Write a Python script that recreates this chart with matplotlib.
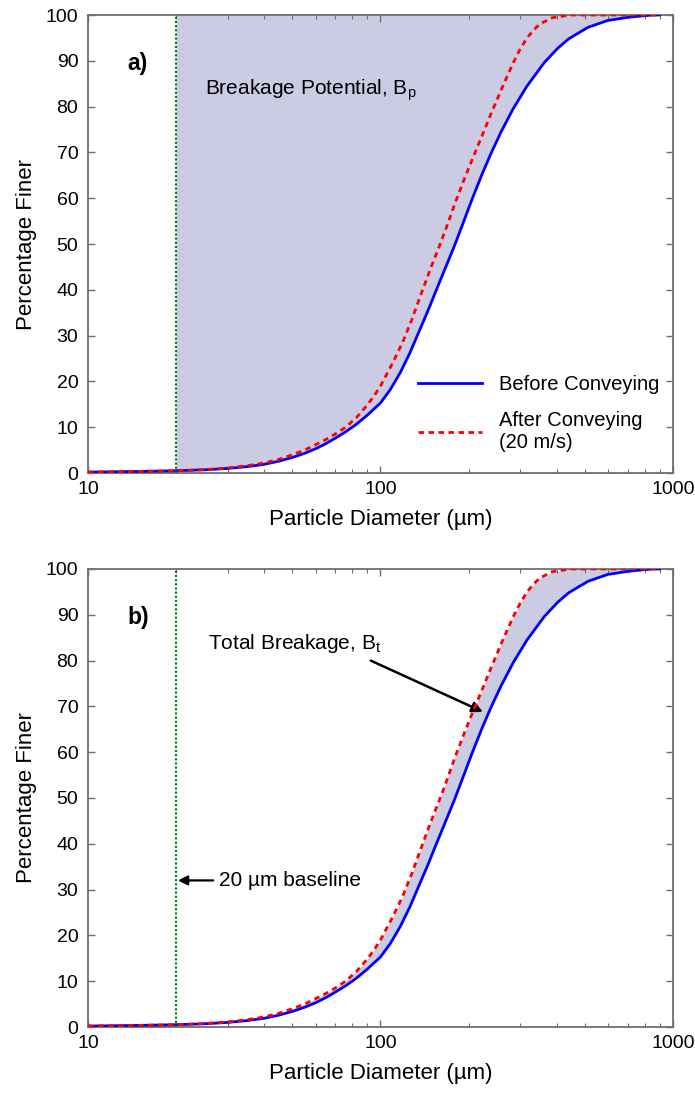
"""
Cumulative particle size distributions before and after pneumatic conveying,
showing breakage potential (a) and total breakage (b) relative to a 20 um baseline.
"""
import numpy as np
import matplotlib.pyplot as plt
from matplotlib.ticker import FixedLocator, LogLocator, NullFormatter

plt.rcParams["font.family"] = ["Liberation Sans", "DejaVu Sans"]

# Before conveying: particle diameter (um) vs cumulative percentage finer
d_before = [10, 15, 20, 25, 30, 35, 40, 45, 50, 55, 60, 65, 70, 76, 82.5, 90, 100,
            108, 117, 126, 134, 145, 156, 168, 180, 193, 206, 222, 238, 258, 284,
            317, 363, 403, 440, 512, 598, 703, 850, 900]
pf_before = [0.2, 0.35, 0.5, 0.7, 1.0, 1.4, 1.9, 2.6, 3.4, 4.3, 5.3, 6.4, 7.6, 9.0, 10.6,
             12.6, 15.3, 18.2, 22.0, 26.2, 30.2, 35.3, 40.3, 45.3, 50, 55.1, 59.9, 65.1,
             69.6, 74.4, 79.5, 84.5, 89.6, 92.7, 94.8, 97.3, 98.8, 99.5, 100, 100]

# After conveying at 20 m/s
d_after = [10, 15, 20, 25, 30, 35, 40, 45, 50, 55, 60, 65, 70, 76, 83, 90, 95, 100,
           110, 119, 128, 137.5, 148, 160, 170, 180, 193, 206, 222, 239, 260, 284,
           300, 317, 335, 350, 386, 447, 900]
pf_after = [0.2, 0.35, 0.5, 0.75, 1.1, 1.6, 2.2, 3.0, 4.0, 5.0, 6.2, 7.3, 8.5, 10, 12.2,
            14.8, 16.8, 19, 24, 28.5, 33.5, 39, 44.5, 50, 54.5, 59, 64, 68.5, 73.5, 78.5,
            84, 89.5, 92.5, 95, 96.8, 98, 99.4, 100, 100]

baseline = 20.0
x_ticks = [10, 100, 1000]
y_ticks = list(range(0, 101, 10))

FILL = "#cbcbe3"
SPINE = "#6e6e6e"


def style_axes(ax):
    ax.set_xscale("log")
    ax.set_xlim(10, 1000)
    ax.set_ylim(0, 100)
    ax.xaxis.set_major_locator(FixedLocator(x_ticks))
    ax.set_xticklabels([str(t) for t in x_ticks])
    ax.xaxis.set_minor_locator(LogLocator(base=10, subs=np.arange(2, 10)))
    ax.xaxis.set_minor_formatter(NullFormatter())
    ax.set_yticks(y_ticks)
    ax.tick_params(which="both", direction="in", top=True, right=True,
                   color=SPINE, labelsize=14)
    ax.tick_params(axis="y", pad=7)
    ax.tick_params(axis="x", pad=6)
    ax.tick_params(which="major", length=5, width=1.0)
    ax.tick_params(which="minor", length=3, width=0.8)
    for s in ax.spines.values():
        s.set_color(SPINE)
        s.set_linewidth(1.3)
    ax.set_xlabel("Particle Diameter (µm)", fontsize=16, labelpad=8)
    ax.set_ylabel("Percentage Finer", fontsize=16, labelpad=6)


def draw_curves(ax):
    ax.plot(d_before, pf_before, color="#0000ff", lw=2.0, label="Before Conveying",
            solid_joinstyle="round", zorder=4)
    ax.plot(d_after, pf_after, color="#ff0000", lw=2.0, ls=(0, (2, 1.6)),
            label="After Conveying\n(20 m/s)", zorder=5)
    ax.axvline(baseline, color="#007a00", lw=1.5, ls=(0, (1, 1)), zorder=6)


fig = plt.figure(figsize=(6.95, 10.95), dpi=100)
ax_a = fig.add_axes([0.1266, 0.5680, 0.8417, 0.4183])
ax_b = fig.add_axes([0.1266, 0.0621, 0.8417, 0.4183])

# (a) breakage potential: region above the feed curve, coarser than 20 um
xa = np.array(d_before, dtype=float)
ya = np.array(pf_before, dtype=float)
mask = xa >= baseline
ax_a.fill_between(xa[mask], ya[mask], 100, color=FILL, lw=0, zorder=1)
draw_curves(ax_a)
style_axes(ax_a)
ax_a.text(13.6, 89.5, "a)", fontsize=16.5, fontweight="bold", va="center", ha="left")
ax_a.text(25.1, 83.6, "Breakage Potential, B$_\\mathregular{p}$", fontsize=15,
          va="center", ha="left")
ax_a.legend(loc="upper left", bbox_to_anchor=(0.564, 0.215), frameon=False,
            fontsize=14.5, handlelength=3.2, handletextpad=0.85,
            labelspacing=0.85, borderpad=0, borderaxespad=0)

# (b) total breakage: area between the two distributions
xb = np.union1d(d_before, d_after)
yb_before = np.interp(np.log10(xb), np.log10(d_before), pf_before)
yb_after = np.interp(np.log10(xb), np.log10(d_after), pf_after)
ax_b.fill_between(xb, yb_before, yb_after, color=FILL, lw=0, zorder=1)
draw_curves(ax_b)
style_axes(ax_b)
ax_b.text(13.6, 89.5, "b)", fontsize=16.5, fontweight="bold", va="center", ha="left")
ax_b.text(25.7, 83.8, "Total Breakage, B$_\\mathregular{t}$", fontsize=15,
          va="center", ha="left")
ax_b.annotate("", xy=(224, 68.8), xytext=(92.6, 80.0),
              arrowprops=dict(arrowstyle="-|>", color="black", lw=1.8,
                              mutation_scale=16, shrinkA=0, shrinkB=0))
ax_b.annotate("20 µm baseline", xy=(20.3, 32.0), xytext=(28.0, 32.0),
              fontsize=15, va="center", ha="left",
              arrowprops=dict(arrowstyle="-|>", color="black", lw=1.6,
                              mutation_scale=14, shrinkA=2, shrinkB=0))

fig.savefig("out.png", dpi=100)
